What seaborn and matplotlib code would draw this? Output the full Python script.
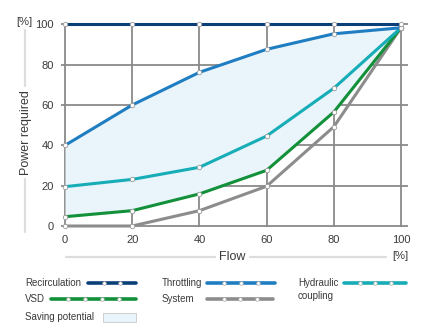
import matplotlib
matplotlib.use("Agg")
import matplotlib.pyplot as plt
import seaborn as sns
import pandas as pd
import numpy as np
from matplotlib.lines import Line2D
from matplotlib.patches import Rectangle

flow = [0, 20, 40, 60, 80, 100]
recirculation = [100, 100, 100, 100, 100, 100]
throttling = [40, 60, 76.2, 87.6, 95.3, 98.3]
hydraulic = [19.5, 23.1, 29.1, 44.6, 68.3, 98.3]
vsd = [4.6, 7.6, 15.9, 27.6, 56.5, 98.3]
system = [0, 0, 7.6, 19.7, 49.2, 98.3]
xticks = [0, 20, 40, 60, 80, 100]
yticks = [0, 20, 40, 60, 80, 100]

names = ["Recirculation", "Throttling", "Hydraulic coupling", "VSD", "System"]
series = [recirculation, throttling, hydraulic, vsd, system]
colors = {"Recirculation": "#0b3f78", "Throttling": "#1f7dc2",
          "Hydraulic coupling": "#17adb7", "VSD": "#13903a", "System": "#8c8c8c"}
fill_color = "#e9f4fb"
grid_color = "#8a8a8a"
text_color = "#3a3a3a"

df = pd.DataFrame([(n, f, v) for n, s in zip(names, series) for f, v in zip(flow, s)],
                  columns=["series", "flow", "power"])

sns.set_style("white")
plt.rcParams["font.family"] = ["Liberation Sans", "DejaVu Sans"]

W, H = 442, 335
fig = plt.figure(figsize=(W / 100, H / 100), dpi=100)
x0p, x1p = 61, 408.4
y0p, y1p = 227, 23.3
ax = fig.add_axes([x0p / W, 1 - y0p / H, (x1p - x0p) / W, (y0p - y1p) / H])
ax.set_xlim(-1.2, 102.2)
ax.set_ylim(-0.5, 100.5)
for s in ax.spines.values():
    s.set_visible(False)
ax.set_xticks(xticks)
ax.set_yticks(yticks)
ax.grid(True, color=grid_color, linewidth=1.3)
ax.set_axisbelow(True)
ax.tick_params(length=0, labelsize=8, labelcolor=text_color, pad=6)
ax.tick_params(axis="y", pad=5)

ax.fill_between(flow, throttling, vsd, color=fill_color, zorder=1, linewidth=0)

sns.lineplot(data=df, x="flow", y="power", hue="series", palette=colors,
             hue_order=["System", "VSD", "Hydraulic coupling", "Throttling", "Recirculation"],
             linewidth=2.2, legend=False, ax=ax, zorder=3, clip_on=False,
             marker="o", markersize=3.2, markerfacecolor="white",
             markeredgecolor="#9a9a9a", markeredgewidth=0.6)
for ln in ax.lines:
    ln.set_clip_on(False)
ax.set_xlabel("")
ax.set_ylabel("")

# axis titles
fig.text(16 / W, 1 - 22 / H, "[%]", fontsize=8, color=text_color, va="center", ha="left")
fig.text(26 / W, 1 - 133 / H, "Power required", fontsize=9, color=text_color,
         rotation=90, va="center", ha="center")
deco = "#dddddd"
fig.add_artist(Line2D([25 / W, 25 / W], [1 - 30 / H, 1 - 86 / H], color=deco, lw=1.6))
fig.add_artist(Line2D([25 / W, 25 / W], [1 - 179 / H, 1 - 232 / H], color=deco, lw=1.6))
fig.text(232 / W, 1 - 257 / H, "Flow", fontsize=9, color=text_color, va="center", ha="center")
fig.add_artist(Line2D([66 / W, 215 / W], [1 - 257 / H] * 2, color=deco, lw=1.6))
fig.add_artist(Line2D([250 / W, 386 / W], [1 - 257 / H] * 2, color=deco, lw=1.6))
fig.text(400 / W, 1 - 256 / H, "[%]", fontsize=8, color=text_color, va="center", ha="center")

# custom legend
def leg_line(xa, xb, y, color, n):
    fig.add_artist(Line2D([xa / W, xb / W], [1 - y / H] * 2, color=color, lw=2.6))
    xs = np.linspace(xa, xb, n + 2)[1:-1]
    fig.add_artist(Line2D(xs / W, [1 - y / H] * len(xs), ls="none", marker="o",
                          ms=2.6, mfc="white", mec="#aaaaaa", mew=0.5))

lfs = 7
fig.text(25 / W, 1 - 283 / H, "Recirculation", fontsize=lfs, color=text_color, va="center")
leg_line(88, 136, 283, colors["Recirculation"], 2)
fig.text(25 / W, 1 - 299 / H, "VSD", fontsize=lfs, color=text_color, va="center")
leg_line(51, 136, 299, colors["VSD"], 4)
fig.text(25 / W, 1 - 317 / H, "Saving potential", fontsize=lfs, color=text_color, va="center")
fig.add_artist(Rectangle((103 / W, 1 - 321.5 / H), 33 / W, 9 / H,
                         facecolor=fill_color, edgecolor="#c8c8c8", lw=0.6))
fig.text(162 / W, 1 - 283 / H, "Throttling", fontsize=lfs, color=text_color, va="center")
leg_line(207, 275, 283, colors["Throttling"], 3)
fig.text(162 / W, 1 - 299 / H, "System", fontsize=lfs, color=text_color, va="center")
leg_line(207, 273, 299, colors["System"], 3)
fig.text(298 / W, 1 - 283 / H, "Hydraulic", fontsize=lfs, color=text_color, va="center")
fig.text(298 / W, 1 - 296 / H, "coupling", fontsize=lfs, color=text_color, va="center")
leg_line(344, 406, 283, colors["Hydraulic coupling"], 3)

fig.savefig("out.png", dpi=100, facecolor="white")
